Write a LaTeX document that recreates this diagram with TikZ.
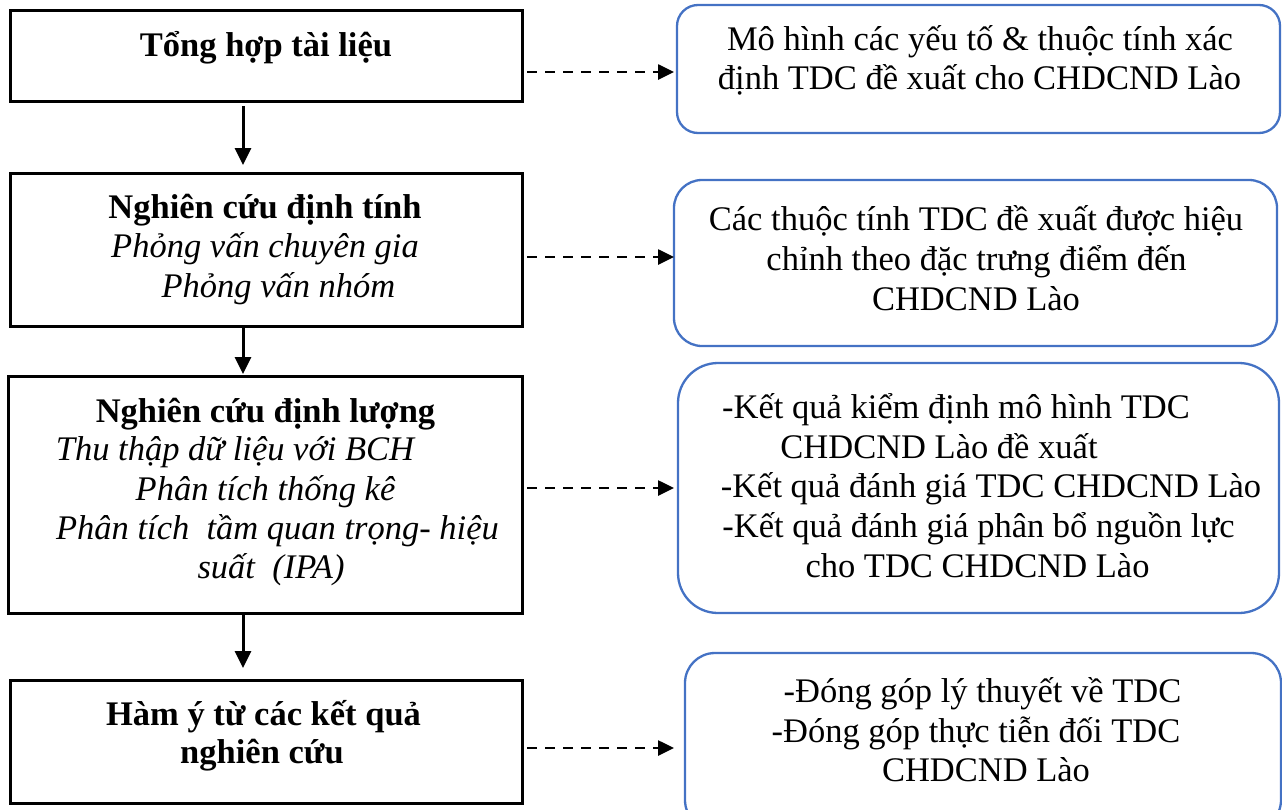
\documentclass[tikz,border=0pt]{standalone}
\usepackage{fontspec}
\setmainfont{Liberation Serif}
\usetikzlibrary{arrows.meta}
\definecolor{wblue}{HTML}{4472C4}
\begin{document}
\begin{tikzpicture}[x=1pt,y=-1pt,
  lbox/.style={draw=black,line width=3pt,inner sep=0pt,outer sep=0pt},
  rbox/.style={draw=wblue,line width=2.3pt,inner sep=0pt,outer sep=0pt},
  txt/.style={font=\fontsize{34.5}{39.7}\selectfont,anchor=base,inner sep=0pt},
  btxt/.style={txt,font=\fontsize{34.5}{39.7}\selectfont\bfseries},
  itxt/.style={txt,font=\fontsize{34.5}{39.7}\selectfont\itshape},
  sarr/.style={draw=black,line width=3pt,-{Triangle[length=17pt,width=16pt]}},
  darr/.style={draw=black,line width=2.6pt,dash pattern=on 10pt off 8pt,-{Triangle[length=16pt,width=15pt]}}
]
\useasboundingbox (0,0) rectangle (1282,809);
\clip (0,0) rectangle (1282,809);

% left boxes
\node[lbox,minimum width=512pt,minimum height=91pt] (b1) at (266,55.5) {};
\node[lbox,minimum width=512pt,minimum height=153pt] (b2) at (266,249.5) {};
\node[lbox,minimum width=514pt,minimum height=237pt] (b3) at (265,494.5) {};
\node[lbox,minimum width=512pt,minimum height=123pt] (b4) at (266,741.5) {};

% right boxes
\node[rbox,rounded corners=21pt,minimum width=603pt,minimum height=128pt] (r1) at (978.5,69) {};
\node[rbox,rounded corners=28pt,minimum width=603pt,minimum height=166pt] (r2) at (975.5,263) {};
\node[rbox,rounded corners=40pt,minimum width=601pt,minimum height=250pt] (r3) at (978.5,488) {};
\node[rbox,rounded corners=30pt,minimum width=596pt,minimum height=177pt] (r4) at (983,741.5) {};

% left texts
\node[btxt] (t11) at (266,56) {Tổng hợp tài liệu};
\node[btxt] (t21) at (265,218) {Nghiên cứu định tính};
\node[itxt] (t22) at (265,257) {Phỏng vấn chuyên gia};
\node[itxt] (t23) at (278.5,297) {Phỏng vấn nhóm};
\node[btxt] (t31) at (265.5,422) {Nghiên cứu định lượng};
\node[itxt] (t32) at (235,460) {Thu thập dữ liệu với BCH};
\node[itxt] (t33) at (265.5,500) {Phân tích thống kê};
\node[itxt] (t34) at (277.5,539) {Phân tích\ \ tầm quan trọng- hiệu};
\node[itxt] (t35) at (271,578) {suất\ \ (IPA)};
\node[btxt] (t41) at (263.5,725) {Hàm ý từ các kết quả};
\node[btxt] (t42) at (262,763) {nghiên cứu};

% right texts
\node[txt] (s11) at (980,50) {Mô hình các yếu tố \& thuộc tính xác};
\node[txt] (s12) at (979.5,89) {định TDC đề xuất cho CHDCND Lào};
\node[txt] (s21) at (976,230) {Các thuộc tính TDC đề xuất được hiệu};
\node[txt] (s22) at (976.5,270) {chỉnh theo đặc trưng điểm đến};
\node[txt] (s23) at (976,310) {CHDCND Lào};
\node[txt] (s31) at (956,418) {-Kết quả kiểm định mô hình TDC};
\node[txt] (s32) at (939,458) {CHDCND Lào đề xuất};
\node[txt] (s33) at (991,497) {-Kết quả đánh giá TDC CHDCND Lào};
\node[txt] (s34) at (978.5,537) {-Kết quả đánh giá phân bổ nguồn lực};
\node[txt] (s35) at (977.5,577) {cho TDC CHDCND Lào};
\node[txt] (s41) at (982.5,702) {-Đóng góp lý thuyết về TDC};
\node[txt] (s42) at (976,742) {-Đóng góp thực tiễn đối TDC};
\node[txt] (s43) at (986,781) {CHDCND Lào};

% solid connectors
\coordinate (ax) at (243,0);
\draw[sarr,shorten <=5pt,shorten >=8pt] (b1.south -| ax) -- (b2.north -| ax);
\draw[sarr,shorten >=2pt] (b2.south -| ax) -- (b3.north -| ax);
\draw[sarr,shorten >=12pt] (b3.south -| ax) -- (b4.north -| ax);

% dashed connectors
\coordinate (d1) at (0,72);
\coordinate (d2) at (0,257);
\coordinate (d3) at (0,488);
\coordinate (d4) at (0,748);
\draw[darr,shorten <=5pt,shorten >=3pt] (b1.east |- d1) -- (r1.west |- d1);
\draw[darr,shorten <=5pt,shorten >=0pt] (b2.east |- d2) -- (r2.west |- d2);
\draw[darr,shorten <=5pt,shorten >=4pt] (b3.east |- d3) -- (r3.west |- d3);
\draw[darr,shorten <=5pt,shorten >=11pt] (b4.east |- d4) -- (r4.west |- d4);
\end{tikzpicture}
\end{document}
